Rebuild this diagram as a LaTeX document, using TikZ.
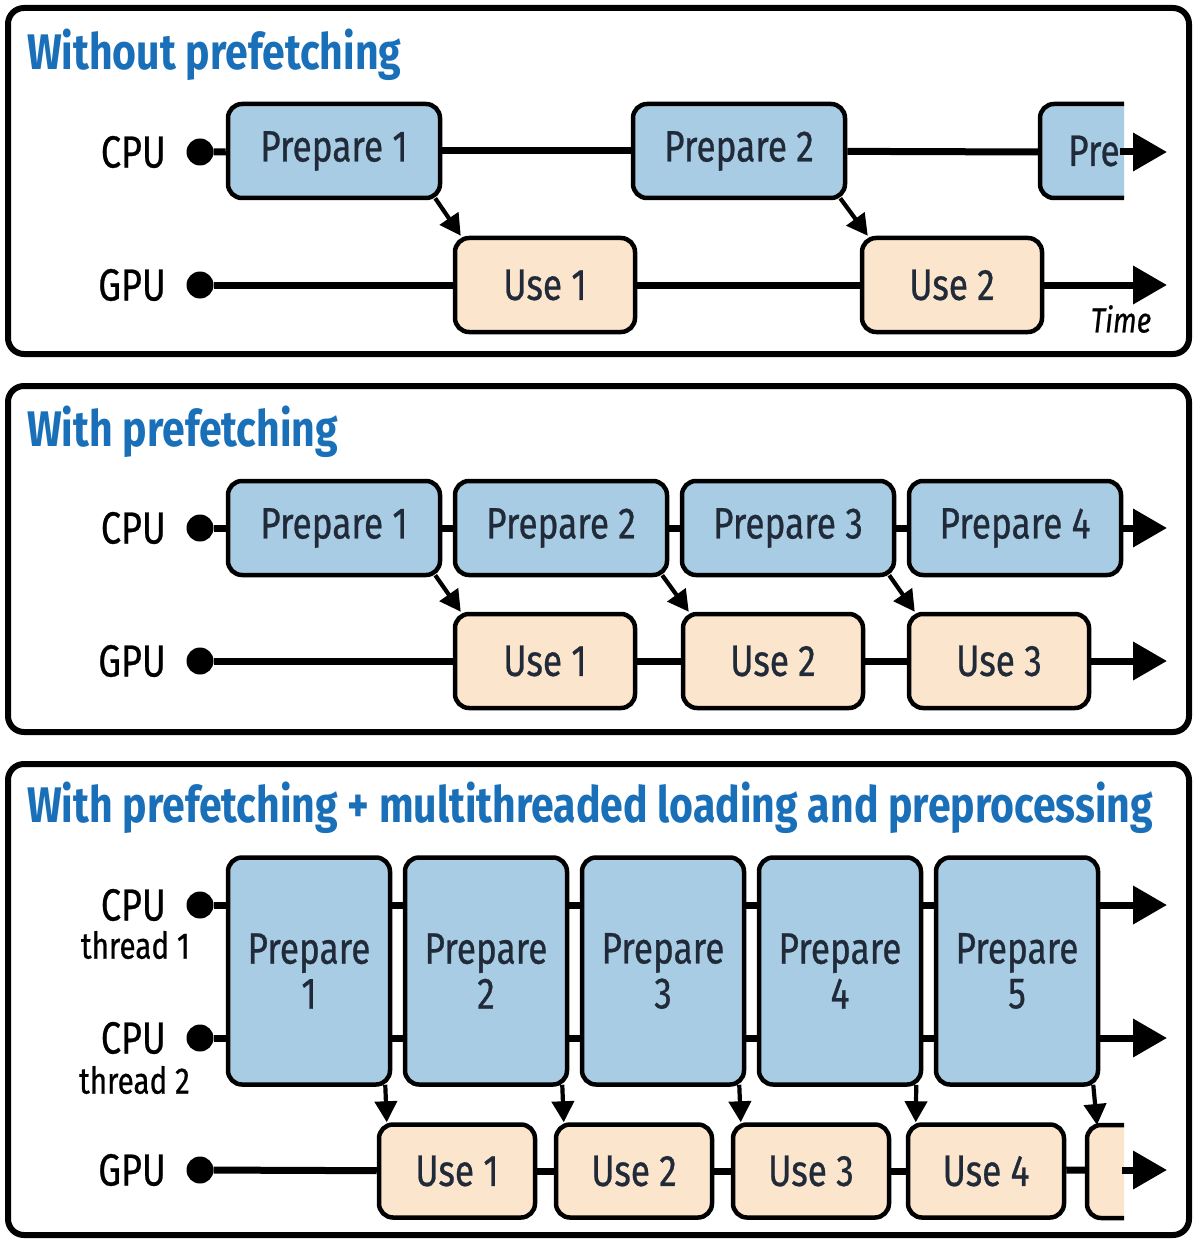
\documentclass[tikz,border=0pt]{standalone}
\usepackage{fontspec}
\setmainfont{Fira Sans}[FakeStretch=0.80, FakeBold=0.6]
\newfontfamily\titlefont{Fira Sans}[FakeStretch=0.82]
\usetikzlibrary{arrows.meta}
\definecolor{pblue}{RGB}{168,204,228}
\definecolor{ppeach}{RGB}{251,229,204}
\definecolor{tblue}{RGB}{26,112,184}
\definecolor{txt}{RGB}{32,42,56}
\begin{document}
\begin{tikzpicture}[x=1pt,y=-1pt,
  panel/.style={draw, line width=6pt, rounded corners=16pt},
  title/.style={anchor=west, inner sep=0pt, text=tblue, font=\titlefont\fontsize{50}{53}\selectfont\bfseries},
  lbl/.style={anchor=east, inner sep=0pt, font=\fontsize{45}{48}\selectfont},
  sublbl/.style={anchor=east, inner sep=0pt, font=\fontsize{37}{40}\selectfont},
  boxbase/.style={draw, line width=4.5pt, rounded corners=14pt, inner sep=0pt, text=txt, font=\fontsize{44}{45}\selectfont, align=center},
  prep/.style={boxbase, fill=pblue},
  usebox/.style={boxbase, fill=ppeach},
  wide/.style={minimum width=212pt, minimum height=94pt},
  tall/.style={minimum width=162pt, minimum height=227pt},
  ubox/.style={minimum width=180pt, minimum height=94pt},
  sbox/.style={minimum width=156pt, minimum height=93pt},
  dotnode/.style={circle, fill=black, minimum size=27pt, inner sep=0pt},
  lane/.style={line width=7pt},
  endarrow/.style={line width=7pt, -{Triangle[length=34pt,width=37pt]}},
  dep/.style={line width=4.2pt, -{Triangle[length=21pt,width=22pt]}}
]
\useasboundingbox (0,0) rectangle (1194,1241);
\fill[white] (0,0) rectangle (1194,1241);

% ================= Panel 1 =================
\draw[panel] (8,8) rectangle (1189,354);
\node[title] (t1) at (27,55) {Without prefetching};
\node[lbl] (c1) at (166,152) {CPU};
\node[lbl] (g1) at (166,285) {GPU};
\node[dotnode] (c1d) at (200,152) {};
\node[dotnode] (g1d) at (200,285) {};
\node[prep, wide] (a1) at (334,151) {Prepare 1};
\node[prep, wide] (a2) at (739,151) {Prepare 2};
\path[fill=pblue, draw, line width=4.5pt, rounded corners=14pt]
  (1124,104) -- (1040,104) -- (1040,198) -- (1124,198);
\coordinate (a3w) at (1040,152);
\node[anchor=west, inner sep=0pt, text=txt, font=\fontsize{44}{45}\selectfont] (a3) at (1068,151) {Pre};
\coordinate (a3e) at (1120,152);
\coordinate (c1end) at (1167,152);
\node[usebox, ubox] (b1) at (545,285) {Use 1};
\node[usebox, ubox] (b2) at (952,285) {Use 2};
\coordinate (g1end) at (1167,285);
\node[inner sep=0pt, font=\fontsize{35}{36}\selectfont\itshape] (time) at (1121,319) {Time};
\draw[lane] (c1d) -- (a1);
\draw[lane] (a1) -- (a2);
\draw[lane] (a2) -- (a3w);
\draw[endarrow] (a3e) -- (c1end);
\draw[lane] (g1d) -- (b1);
\draw[lane] (b1) -- (b2);
\draw[endarrow] (b2) -- (g1end);
\draw[dep] ([xshift=-7pt,yshift=2pt]a1.south east) -- ([xshift=8pt]b1.north west);
\draw[dep] ([xshift=-7pt,yshift=2pt]a2.south east) -- ([xshift=8pt]b2.north west);

% ================= Panel 2 =================
\draw[panel] (8,386) rectangle (1189,732);
\node[title] (t2) at (27,432) {With prefetching};
\node[lbl] (c2) at (166,528) {CPU};
\node[lbl] (g2) at (166,661) {GPU};
\node[dotnode] (c2d) at (200,528) {};
\node[dotnode] (g2d) at (200,661) {};
\node[prep, wide] (p21) at (334,528) {Prepare 1};
\node[prep, wide] (p22) at (561,528) {Prepare 2};
\node[prep, wide] (p23) at (788,528) {Prepare 3};
\node[prep, wide] (p24) at (1015,528) {Prepare 4};
\coordinate (c2end) at (1167,528);
\node[usebox, ubox] (u21) at (545,661) {Use 1};
\node[usebox, ubox] (u22) at (773,661) {Use 2};
\node[usebox, ubox] (u23) at (999,661) {Use 3};
\coordinate (g2end) at (1167,661);
\draw[lane] (c2d) -- (p21);
\draw[lane] (p21) -- (p22);
\draw[lane] (p22) -- (p23);
\draw[lane] (p23) -- (p24);
\draw[endarrow] (p24) -- (c2end);
\draw[lane] (g2d) -- (u21);
\draw[lane] (u21) -- (u22);
\draw[lane] (u22) -- (u23);
\draw[endarrow] (u23) -- (g2end);
\draw[dep] ([xshift=-7pt,yshift=2pt]p21.south east) -- ([xshift=8pt]u21.north west);
\draw[dep] ([xshift=-7pt,yshift=2pt]p22.south east) -- ([xshift=8pt]u22.north west);
\draw[dep] ([xshift=-7pt,yshift=2pt]p23.south east) -- ([xshift=8pt]u23.north west);

% ================= Panel 3 =================
\draw[panel] (8,764) rectangle (1189,1235);
\node[title] (t3) at (27,808) {With prefetching + multithreaded loading and preprocessing};
\node[lbl] (c31) at (166,905) {CPU};
\node[sublbl] (c31s) at (190,945) {thread 1};
\node[lbl] (c32) at (166,1038) {CPU};
\node[sublbl] (c32s) at (190,1080) {thread 2};
\node[lbl] (g3) at (166,1170) {GPU};
\node[dotnode] (c31d) at (200,905) {};
\node[dotnode] (c32d) at (200,1038) {};
\node[dotnode] (g3d) at (200,1170) {};
\node[prep, tall] (q1) at (309,971) {Prepare\\1};
\node[prep, tall] (q2) at (486,971) {Prepare\\2};
\node[prep, tall] (q3) at (663,971) {Prepare\\3};
\node[prep, tall] (q4) at (840,971) {Prepare\\4};
\node[prep, tall] (q5) at (1017,971) {Prepare\\5};
\coordinate (c31end) at (1167,905);
\coordinate (c32end) at (1167,1038);
\node[usebox, sbox] (v1) at (457,1171) {Use 1};
\node[usebox, sbox] (v2) at (634,1171) {Use 2};
\node[usebox, sbox] (v3) at (811,1171) {Use 3};
\node[usebox, sbox] (v4) at (986,1171) {Use 4};
\path[fill=ppeach, draw, line width=4.5pt, rounded corners=14pt]
  (1124,1125) -- (1087,1125) -- (1087,1218) -- (1124,1218);
\coordinate (v5w) at (1087,1170);
\coordinate (v5e) at (1122,1170);
\coordinate (v5t) at (1097,1125);
\coordinate (g3end) at (1167,1170);
% lanes thread 1
\draw[lane] (c31d) -- (q1.west |- c31d);
\draw[lane] (q1.east |- c31d) -- (q2.west |- c31d);
\draw[lane] (q2.east |- c31d) -- (q3.west |- c31d);
\draw[lane] (q3.east |- c31d) -- (q4.west |- c31d);
\draw[lane] (q4.east |- c31d) -- (q5.west |- c31d);
\draw[endarrow] (q5.east |- c31d) -- (c31end);
% lanes thread 2
\draw[lane] (c32d) -- (q1.west |- c32d);
\draw[lane] (q1.east |- c32d) -- (q2.west |- c32d);
\draw[lane] (q2.east |- c32d) -- (q3.west |- c32d);
\draw[lane] (q3.east |- c32d) -- (q4.west |- c32d);
\draw[lane] (q4.east |- c32d) -- (q5.west |- c32d);
\draw[endarrow] (q5.east |- c32d) -- (c32end);
% GPU lane
\draw[lane] (g3d) -- (v1);
\draw[lane] (v1) -- (v2);
\draw[lane] (v2) -- (v3);
\draw[lane] (v3) -- (v4);
\draw[lane] (v4) -- (v5w);
\draw[endarrow] (v5e) -- (g3end);
\draw[dep] ([xshift=-7pt,yshift=2pt]q1.south east) -- ([xshift=10pt]v1.north west);
\draw[dep] ([xshift=-7pt,yshift=2pt]q2.south east) -- ([xshift=10pt]v2.north west);
\draw[dep] ([xshift=-7pt,yshift=2pt]q3.south east) -- ([xshift=10pt]v3.north west);
\draw[dep] ([xshift=-7pt,yshift=2pt]q4.south east) -- ([xshift=10pt]v4.north west);
\draw[dep] ([xshift=-7pt,yshift=2pt]q5.south east) -- (v5t);
\end{tikzpicture}
\end{document}
